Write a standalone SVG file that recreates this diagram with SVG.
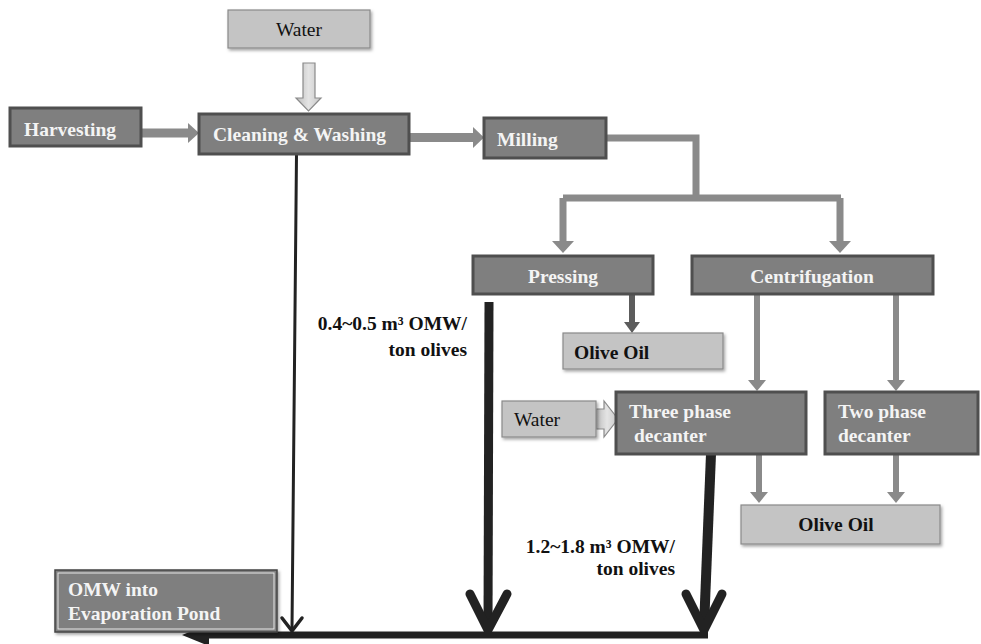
<svg xmlns="http://www.w3.org/2000/svg" width="981" height="644" viewBox="0 0 981 644">
<style>
.dark{fill:#7f7f7f;stroke:#4f4f4f;stroke-width:3}
.light{fill:#c4c4c4;stroke:#8a8a8a;stroke-width:1.2}
.wt{font-family:"Liberation Serif","Times New Roman",serif;font-weight:bold;font-size:19.5px;fill:#f4f4f4}
.bt{font-family:"Liberation Serif","Times New Roman",serif;font-weight:bold;font-size:19.5px;fill:#111}
.nt{font-family:"Liberation Serif","Times New Roman",serif;font-size:19.5px;fill:#111}
.g{stroke:#8a8a8a;fill:none}
.gh{fill:#8a8a8a}
.k{stroke:#222;fill:none;stroke-linecap:round;stroke-linejoin:round}
.blk{fill:url(#bg);stroke:#8a8a8a;stroke-width:1.2}
</style>
<defs>
<filter id="sh" x="-10%" y="-20%" width="125%" height="150%">
<feDropShadow dx="1.5" dy="2" stdDeviation="1.5" flood-color="#000" flood-opacity="0.35"/>
</filter>
<linearGradient id="bg" x1="0" y1="0" x2="1" y2="0">
<stop offset="0" stop-color="#bdbdbd"/>
<stop offset="0.5" stop-color="#e4e4e4"/>
<stop offset="1" stop-color="#c8c8c8"/>
</linearGradient>
</defs>
<rect width="981" height="644" fill="#fff"/>

<g id="connectors">
<path class="blk" d="M303,63 H315 V98 H321 L308.5,111 L296,98 H303 Z"/>
<line class="g" x1="141" y1="133" x2="189" y2="133" stroke-width="9"/>
<polygon class="gh" points="188,123 199,133 188,143"/>
<line class="g" x1="409" y1="137.5" x2="474" y2="137.5" stroke-width="9"/>
<polygon class="gh" points="473,127 484,137.5 473,148"/>
<path class="g" stroke-width="7" d="M606,138 H696 V198 M563,198 H841 M563,198 V242 M840,198 V242"/>
<polygon class="gh" points="552,241 563,253 574,241"/>
<polygon class="gh" points="829,241 840,253 851,241"/>
<line class="g" x1="757" y1="294" x2="757" y2="381" stroke-width="6"/>
<polygon class="gh" points="748,380 757,391 766,380"/>
<line class="g" x1="896" y1="294" x2="896" y2="381" stroke-width="6"/>
<polygon class="gh" points="887,380 896,391 905,380"/>
<line class="g" x1="759" y1="454" x2="759" y2="493" stroke-width="6"/>
<polygon class="gh" points="750,492 759,503 768,492"/>
<line class="g" x1="896" y1="454" x2="896" y2="493" stroke-width="6"/>
<polygon class="gh" points="887,492 896,503 905,492"/>
<line x1="632" y1="294" x2="632" y2="323" stroke="#5c5c5c" stroke-width="6"/>
<polygon fill="#5c5c5c" points="624,322 632,333 640,322"/>
<path class="blk" d="M596,409 H604 V401 L618,419 L604,437 V429 H596 Z"/>
<line class="k" x1="296.5" y1="154" x2="292" y2="628" stroke-width="3"/>
<polyline class="k" points="282,618 292,631 302,618" stroke-width="3.5"/>
<line x1="489" y1="302" x2="488" y2="628" stroke="#222" stroke-width="9"/>
<polyline class="k" points="470,594 488,630 507,594" stroke-width="9"/>
<line x1="711" y1="454" x2="704" y2="628" stroke="#222" stroke-width="10"/>
<polyline class="k" points="686,594 704,630 722,594" stroke-width="9"/>
<line x1="204" y1="635" x2="708" y2="635" stroke="#222" stroke-width="7"/>
<polygon fill="#222" points="182,635 209,624 209,646"/>
</g>

<g id="water-top">
<rect class="light" x="228" y="10" width="142" height="38" filter="url(#sh)"/>
<text class="nt" x="299" y="36" text-anchor="middle">Water</text>
</g>
<g id="harvesting">
<rect class="dark" x="10" y="108" width="131" height="38"/>
<text class="wt" x="24" y="136">Harvesting</text>
</g>
<g id="cleaning">
<rect class="dark" x="199" y="114" width="210" height="40"/>
<text class="wt" x="213" y="141">Cleaning &amp; Washing</text>
</g>
<g id="milling">
<rect class="dark" x="484" y="118" width="122" height="40"/>
<text class="wt" x="497" y="146">Milling</text>
</g>
<g id="pressing">
<rect class="dark" x="473" y="256" width="180" height="38"/>
<text class="wt" x="563" y="283" text-anchor="middle">Pressing</text>
</g>
<g id="centrifugation">
<rect class="dark" x="692" y="256" width="241" height="38"/>
<text class="wt" x="812" y="283" text-anchor="middle">Centrifugation</text>
</g>
<g id="olive-oil-1">
<rect class="light" x="563" y="333" width="160" height="36" filter="url(#sh)"/>
<text class="bt" x="574" y="359">Olive Oil</text>
</g>
<g id="water-2">
<rect class="light" x="502" y="401" width="94" height="36" filter="url(#sh)"/>
<text class="nt" x="514" y="426">Water</text>
</g>
<g id="three-phase">
<rect class="dark" x="616" y="392" width="190" height="62"/>
<text class="wt" x="629" y="418">Three phase</text>
<text class="wt" x="634" y="442">decanter</text>
</g>
<g id="two-phase">
<rect class="dark" x="825" y="392" width="153" height="62"/>
<text class="wt" x="838" y="418">Two phase</text>
<text class="wt" x="838" y="442">decanter</text>
</g>
<g id="olive-oil-2">
<rect class="light" x="741" y="505" width="199" height="39" filter="url(#sh)"/>
<text class="bt" x="836" y="531" text-anchor="middle">Olive Oil</text>
</g>
<g id="omw-pond">
<rect x="55" y="570" width="222" height="62" fill="#7f7f7f" stroke="#444" stroke-width="1.5" filter="url(#sh)"/>
<rect x="58" y="573" width="216" height="56" fill="none" stroke="#e8e8e8" stroke-width="1"/>
<text class="wt" x="68" y="596">OMW into</text>
<text class="wt" x="68" y="620">Evaporation Pond</text>
</g>
<g id="labels">
<text class="bt" x="467" y="330" text-anchor="end">0.4~0.5 m³ OMW/</text>
<text class="bt" x="467" y="356" text-anchor="end">ton olives</text>
<text class="bt" x="675" y="553" text-anchor="end">1.2~1.8 m³ OMW/</text>
<text class="bt" x="675" y="575" text-anchor="end">ton olives</text>
</g>
</svg>
